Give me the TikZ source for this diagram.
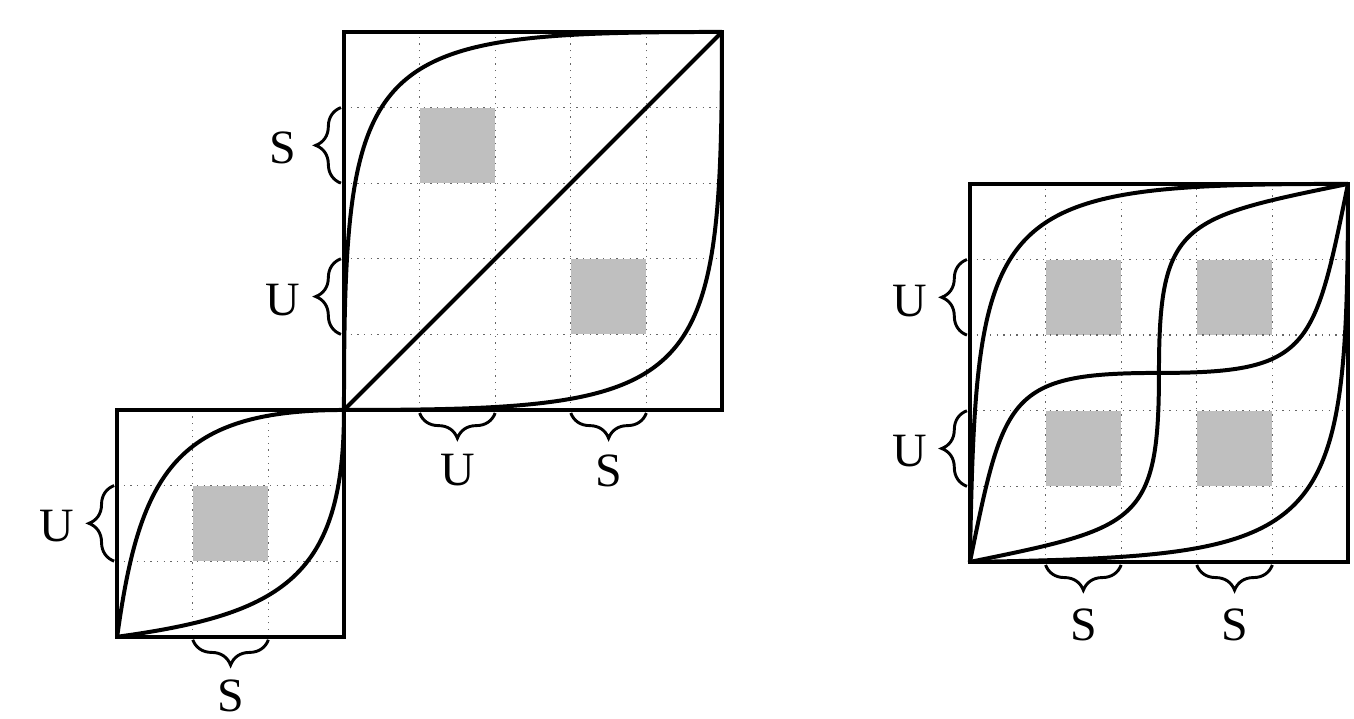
\documentclass[tikz,border=0pt]{standalone}
\usepackage{fontspec}
\setmainfont{Liberation Serif}
\usetikzlibrary{decorations.pathreplacing}
\tikzset{
  frame/.style={line width=1.4pt},
  curve/.style={line width=1.5pt},
  gridline/.style={black!60, dotted, line width=0.5pt},
  cell/.style={fill=black!25, draw=none},
  brc/.style={decorate, decoration={brace, amplitude=9.5pt}, line width=1.1pt},
  lab/.style={font=\fontsize{18}{21}\selectfont, inner sep=0pt}
}
\begin{document}
\begin{tikzpicture}[x=1cm,y=1cm]
\useasboundingbox (-4.55,-4.087) rectangle (13.36,5.423);

% ---------- big square ----------
\fill[cell] (1,3) rectangle (2,4);
\fill[cell] (3,1) rectangle (4,2);
\draw[gridline] (0,0) grid (5,5);
\draw[curve] (0,0) -- (5,5);
\draw[curve] (0,0) .. controls (0,4.75) and (0.25,5) .. (5,5);
\draw[curve] (0,0) .. controls (4.75,0) and (5,0.25) .. (5,5);
\draw[frame] (0,0) rectangle (5,5);
\draw[brc] (-0.04,3) -- (-0.04,4);
\draw[brc] (-0.04,1) -- (-0.04,2);
\draw[brc] (2,-0.04) -- (1,-0.04);
\draw[brc] (4,-0.04) -- (3,-0.04);
\node[lab] (bS) at (-0.81,3.46) {S};
\node[lab] (bU) at (-0.81,1.46) {U};
\node[lab] (bbU) at (1.5,-0.8) {U};
\node[lab] (bbS) at (3.5,-0.8) {S};

% ---------- small square ----------
\fill[cell] (-2,-2) rectangle (-1,-1);
\draw[gridline] (-3,-3) grid (0,0);
\draw[curve] (-3,-3) .. controls (-2.7,-0.8) and (-2.2,0) .. (0,0);
\draw[curve] (-3,-3) .. controls (-0.8,-2.7) and (0,-2.2) .. (0,0);
\draw[frame] (-3,-3) rectangle (0,0);
\draw[brc] (-3.04,-2) -- (-3.04,-1);
\draw[brc] (-1,-3.04) -- (-2,-3.04);
\node[lab] (sU) at (-3.8,-1.53) {U};
\node[lab] (sS) at (-1.5,-3.78) {S};

% ---------- right square ----------
\begin{scope}[shift={(8.28,-2.01)}]
\fill[cell] (1,1) rectangle (2,2);
\fill[cell] (3,1) rectangle (4,2);
\fill[cell] (1,3) rectangle (2,4);
\fill[cell] (3,3) rectangle (4,4);
\draw[gridline] (0,0) grid (5,5);
\draw[curve] (0,0) .. controls (0.08,4.75) and (0.25,5) .. (5,5);
\draw[curve] (0,0) .. controls (4.75,0.08) and (5,0.25) .. (5,5);
\draw[curve] (0,0) .. controls (2.2,0.45) and (2.5,0.5) .. (2.5,2.5)
                   .. controls (2.5,4.5) and (2.8,4.55) .. (5,5);
\draw[curve] (0,0) .. controls (0.45,2.2) and (0.5,2.5) .. (2.5,2.5)
                   .. controls (4.5,2.5) and (4.55,2.8) .. (5,5);
\draw[frame] (0,0) rectangle (5,5);
\draw[brc] (-0.04,3) -- (-0.04,4);
\draw[brc] (-0.04,1) -- (-0.04,2);
\draw[brc] (2,-0.04) -- (1,-0.04);
\draw[brc] (4,-0.04) -- (3,-0.04);
\node[lab] (rU1) at (-0.8,3.45) {U};
\node[lab] (rU2) at (-0.8,1.46) {U};
\node[lab] (rS1) at (1.5,-0.83) {S};
\node[lab] (rS2) at (3.5,-0.83) {S};
\end{scope}
\end{tikzpicture}
\end{document}
